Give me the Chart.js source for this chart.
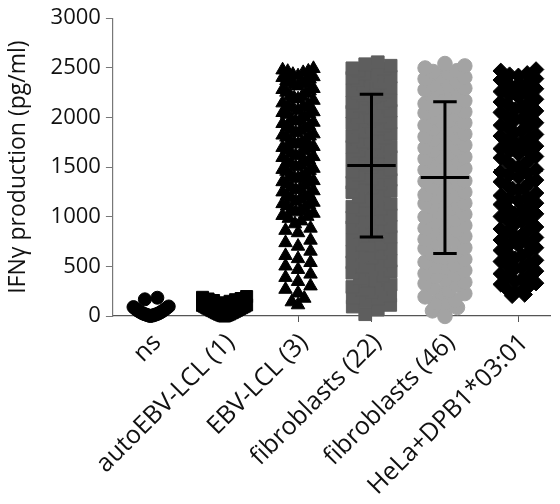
<!DOCTYPE html>
<html>
<head>
<meta charset="utf-8">
<script src="https://cdn.jsdelivr.net/npm/chart.js@4/dist/chart.umd.min.js"></script>
<style>
  html, body { margin: 0; padding: 0; background: #fff; }
  #wrap { width: 560px; height: 504px; }
</style>
</head>
<body>
<div id="wrap"><canvas id="dotPlot" width="560" height="504"></canvas></div>
<script>
// groups along the x axis
var categories = ['ns', 'autoEBV-LCL (1)', 'EBV-LCL (3)', 'fibroblasts (22)', 'fibroblasts (46)', 'HeLa+DPB1*03:01'];

// IFN-gamma per well, pg/ml
var nsValues = [0, 3, 6, 9, 12, 15, 19, 22, 26, 31, 36, 42, 47, 54, 60, 66, 74, 83, 90, 96, 168, 184];
var autoLclValues = [0, 4, 7, 11, 14, 18, 21, 27, 31, 34, 39, 44, 48, 53, 57, 61, 66, 71, 76, 79, 84, 89, 93, 99, 102, 107,
  112, 121, 133, 148, 156, 164, 171, 176, 188, 196];
var ebvLclValues = [2492, 2478, 2466, 2451, 2433, 2410, 2386, 2362, 2344, 2317, 2291, 2268, 2243, 2219, 2196, 2172, 2146,
  2127, 2098, 2071, 2049, 2031, 2004, 1984, 1963, 1938, 1917, 1891, 1869, 1846, 1822, 1801, 1774, 1752, 1731, 1707,
  1688, 1664, 1639, 1617, 1596, 1571, 1547, 1521, 1502, 1476, 1457, 1432, 1409, 1386, 1363, 1341, 1317, 1296, 1272,
  1249, 1224, 1202, 1178, 1156, 1131, 1108, 1087, 1062, 1034, 1012, 983, 957, 928, 884, 862, 838, 763, 738, 702, 652,
  608, 577, 538, 503, 468, 421, 388, 347, 302, 268, 231, 178, 142, 112,
  2402, 2355, 2281, 2207, 2121, 2057, 1973, 1903, 1834, 1761, 1697, 1626, 1553, 1487, 1419, 1352, 1284, 1213, 1145,
  1071, 1003, 2463, 2418, 2371, 2329, 2254, 2186, 2109, 2038, 1951, 1879, 1812, 1742, 1676, 1605, 1534, 1466, 1398,
  1329, 1261, 1191, 1119, 1048];
var fib22Values = [18, 64, 112, 146, 177, 204, 236, 261, 292, 317, 353, 378, 404, 436, 467, 497, 522, 557, 588, 613, 647,
  677, 704, 732, 768, 797, 817, 846, 872, 903, 937, 963, 992, 1016, 1047, 1078, 1101, 1127, 1157, 1184, 1204, 1237,
  1263, 1289, 1312, 1344, 1371, 1397, 1421, 1448, 1475, 1503, 1532, 1548, 1578, 1602, 1629, 1654, 1683, 1703, 1732,
  1757, 1783, 1811, 1836, 1862, 1887, 1913, 1941, 1965, 1991, 2013, 2042, 2067, 2094, 2117, 2146, 2172, 2193, 2221,
  2247, 2274, 2297, 2321, 2351, 2373, 2399, 2426, 2446, 2473, 2495, 2521, 2556, 1521, 1612, 1706, 1801, 1904, 2011,
  2104, 2212, 2306, 2411, 2466, 1452, 1382, 1951, 2152, 1779, 2381, 2262, 1661, 2002,
  95, 188, 275, 366, 452, 541, 629, 718, 806, 894, 983, 1071, 1162, 1248, 1336, 1428, 1566, 1745, 1853, 2058, 2233,
  2338, 2489, 2536];
var fib46Values = [-4, 38, 86, 124, 158, 193, 226, 254, 283, 312, 341, 372, 398, 427, 459, 486, 514, 543, 571, 602,
  628, 657, 688, 716, 742, 771, 803, 829, 856, 884, 912, 944, 968, 997, 1024, 1053, 1082, 1109, 1137, 1166, 1192,
  1221, 1248, 1277, 1306, 1331, 1362, 1389, 1416, 1443, 1472, 1499, 1528, 1556, 1584, 1611, 1638, 1667, 1693, 1722,
  1751, 1778, 1806, 1833, 1862, 1889, 1917, 1946, 1972, 2001, 2028, 2057, 2084, 2112, 2139, 2168, 2196, 2223, 2251,
  2279, 2306, 2334, 2362, 2389, 2417, 2446, 2471, 2498, 2543, 612, 845, 1096, 1288, 1452, 1603, 1741, 1884, 2046,
  2187, 2322, 2463, 1358, 1517, 1969,
  52, 141, 238, 327, 414, 503, 592, 681, 773, 862, 951, 1041, 1133, 1212, 1305, 1398, 1486, 1574, 1689, 1798, 1921,
  2081, 2213, 2295, 2404, 2519];
var helaValues = [204, 217, 238, 263, 301, 319, 346, 371, 409, 426, 452, 477, 506, 529, 549, 576, 609, 633, 661, 688,
  713, 737, 766, 791, 818, 846, 871, 897, 926, 951, 974, 1003, 1029, 1056, 1081, 1111, 1137, 1162, 1187, 1213, 1239,
  1266, 1291, 1317, 1346, 1369, 1399, 1424, 1451, 1476, 1501, 1527, 1556, 1579, 1607, 1633, 1659, 1686, 1711, 1739,
  1764, 1791, 1814, 1843, 1867, 1896, 1921, 1947, 1976, 1999, 2026, 2051, 2079, 2104, 2131, 2157, 2183, 2209, 2236,
  2261, 2289, 2314, 2341, 2366, 2391, 2419, 2444, 2469, 2483,
  2377, 2223, 2066, 1906, 1752, 1594, 1438, 1281, 1123, 964, 806, 645, 486, 331,
  2431, 2302, 2147, 1987, 1829, 1668, 1512, 1352, 1195, 1035, 877, 718, 561, 402, 259];

// mean +/- SD drawn over the dots (null = not drawn)
var meanValues = [null, null, null, 1515, 1394, 1465];
var sdValues = [null, null, null, 720, 765, null];

var groups = [nsValues, autoLclValues, ebvLclValues, fib22Values, fib46Values, helaValues];
var markers = ['circle', 'rect', 'triangle', 'rect', 'circle', 'rectRot'];
var markerSizes = [6.5, 8.5, 7.8, 9, 7.3, 7.8];
var markerColors = ['#000', '#000', '#000', '#5e5e5e', '#a3a3a3', '#000'];
var halfWidths = [0.24, 0.3, 0.21, 0.26, 0.27, 0.24];

// scatter-dot layout: values that fall in the same band share a row,
// lowest in the middle and the higher ones pushed out to the sides
function spreadGroup(values, index, maxHalf) {
  var band = 115, step = 0.17;
  var rows = {};
  values.slice().sort(function(a, b) { return a - b; }).forEach(function(v) {
    var key = Math.floor(v / band);
    (rows[key] = rows[key] || []).push(v);
  });
  var points = [];
  Object.keys(rows).forEach(function(key) {
    var row = rows[key];
    var n = row.length;
    var gap = n > 1 ? Math.min(step, 2 * maxHalf / (n - 1)) : 0;
    var slots = [];
    for (var i = 0; i < n; i++) slots.push((i - (n - 1) / 2) * gap);
    slots.sort(function(a, b) { return Math.abs(a) - Math.abs(b) || a - b; });
    row.forEach(function(v, j) {
      points.push({x: index + slots[j], y: v});
    });
  });
  return points;
}

var datasets = groups.map(function(values, i) {
  return {
    label: categories[i],
    data: spreadGroup(values, i, halfWidths[i]),
    pointStyle: markers[i],
    pointRadius: markerSizes[i],
    pointHoverRadius: markerSizes[i],
    pointBackgroundColor: markerColors[i],
    pointBorderColor: markerColors[i],
    pointBorderWidth: 1,
    showLine: false,
    clip: false
  };
});

// black mean line with SD whiskers
var meanBars = {
  id: 'meanBars',
  afterDatasetsDraw: function(chart) {
    var ctx = chart.ctx, xs = chart.scales.x, ys = chart.scales.y;
    ctx.save();
    ctx.strokeStyle = '#000';
    ctx.lineWidth = 3;
    meanValues.forEach(function(m, i) {
      if (m === null) return;
      var cx = xs.getPixelForValue(i);
      var unit = xs.getPixelForValue(1) - xs.getPixelForValue(0);
      var y = ys.getPixelForValue(m);
      ctx.beginPath();
      ctx.moveTo(cx - unit * 0.33, y);
      ctx.lineTo(cx + unit * 0.33, y);
      ctx.stroke();
      var sd = sdValues[i];
      if (sd === null) return;
      var top = ys.getPixelForValue(m + sd), bot = ys.getPixelForValue(m - sd);
      ctx.beginPath();
      ctx.moveTo(cx, top); ctx.lineTo(cx, bot);
      ctx.moveTo(cx - unit * 0.16, top); ctx.lineTo(cx + unit * 0.16, top);
      ctx.moveTo(cx - unit * 0.16, bot); ctx.lineTo(cx + unit * 0.16, bot);
      ctx.stroke();
    });
    ctx.restore();
  }
};

var ctx = document.getElementById('dotPlot').getContext('2d');
var chart = new Chart(ctx, {
  type: 'scatter',
  data: { datasets: datasets },
  plugins: [meanBars],
  options: {
    responsive: false,
    animation: false,
    layout: { padding: { left: 3, right: 0, top: 5, bottom: 0 } },
    plugins: {
      legend: { display: false },
      tooltip: { enabled: false }
    },
    scales: {
      x: {
        type: 'linear',
        min: -0.52,
        max: 5.43,
        afterBuildTicks: function(axis) {
          axis.ticks = categories.map(function(c, i) { return {value: i}; });
        },
        // the long labels run off the bottom edge
        afterFit: function(axis) { axis.height = 188; },
        border: { color: '#555', width: 1.2 },
        grid: { drawOnChartArea: false, drawTicks: true, tickLength: 6, color: '#555' },
        ticks: {
          minRotation: 45,
          maxRotation: 45,
          padding: 6,
          labelOffset: 6,
          color: '#111',
          font: { family: 'Open Sans', size: 25 },
          callback: function(value) { return categories[value]; }
        }
      },
      y: {
        min: 0,
        max: 3000,
        border: { color: '#777', width: 1.2 },
        grid: { drawOnChartArea: false, drawTicks: true, tickLength: 7, color: '#777' },
        ticks: {
          stepSize: 500,
          padding: 5,
          color: '#111',
          font: { family: 'Open Sans', size: 22 },
          callback: function(value) { return String(value); }
        },
        title: {
          display: true,
          text: 'IFNγ production (pg/ml)',
          color: '#111',
          font: { family: 'Open Sans', size: 23 },
          padding: { top: 2, bottom: 13 }
        }
      }
    }
  }
});
</script>
</body>
</html>
